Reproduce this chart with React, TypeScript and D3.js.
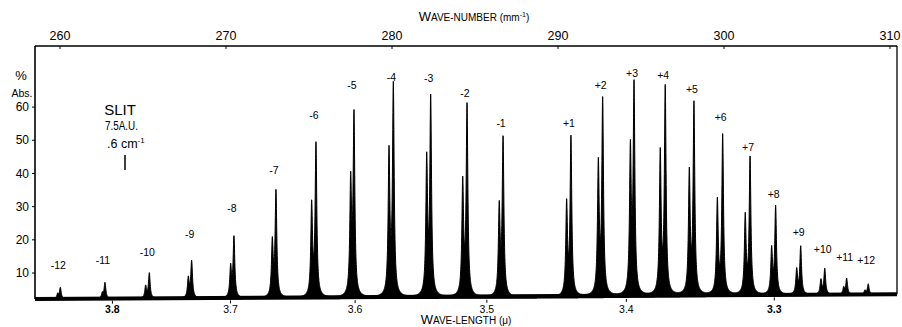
import React from "react";
import * as d3 from "d3";

// ---- data ----
const LINE_LABELS = ["-12","-11","-10","-9","-8","-7","-6","-5","-4","-3","-2","-1","+1","+2","+3","+4","+5","+6","+7","+8","+9","+10","+11","+12"];
const WN_MAIN = [260.02,262.71,265.38,267.93,270.48,273.01,275.42,277.71,280.08,282.33,284.52,286.69,290.78,292.69,294.58,296.46,298.19,299.92,301.57,303.11,304.62,306.07,307.39,308.69];
const ABS_MAIN = [5.7,7.2,10.1,13.9,21.2,35.2,49.5,59.1,67.6,63.9,61.2,51.4,51.4,63.1,68.1,66.6,61.6,51.8,45.2,30.3,18.1,11.4,8.4,6.7];
const WN_ISO = [259.86,262.55,265.16,267.73,270.28,272.79,275.16,277.51,279.82,282.09,284.26,286.46,290.52,292.43,294.36,296.16,297.91,299.6,301.28,302.87,304.38,305.84,307.21,308.49];
const ABS_ISO = [4.0,4.4,6.4,9.1,12.9,20.9,32.0,40.5,48.3,46.4,39.0,31.7,32.3,44.6,50.1,47.6,41.6,32.6,28.1,18.1,11.5,8.2,5.9,4.9];
const LABEL_ABS = [12.4,13.9,16.3,21.7,29.6,40.9,57.6,66.6,69.0,68.7,64.2,55.2,55.2,66.6,70.2,69.6,65.4,56.9,48.0,33.8,22.4,17.2,14.8,13.9];
const BASELINE_WN = [258.5, 290, 310.4];
const BASELINE_ABS = [2.2, 2.6, 3.6];
const WN_TICKS = [260, 270, 280, 290, 300, 310];
const ABS_TICKS = [10, 20, 30, 40, 50, 60];
const WL_TICKS = [3.8, 3.7, 3.6, 3.5, 3.4, 3.3];

const FONT = "'Liberation Sans', Arial, sans-serif";

export default function App() {
  const W = 902, H = 327;
  const x = d3.scaleLinear().domain([260, 300]).range([60, 724]);
  const y = d3.scaleLinear().domain([0, 78.4]).range([306.2, 46]);
  const base = d3.scaleLinear().domain(BASELINE_WN).range(BASELINE_ABS);
  const left = 35, right = 897, top = 46;
  const wnMin = x.invert(left), wnMax = x.invert(right);

  const gam = 1.0 / 16.6; // line half-width in mm^-1
  const lor = (d: number) => 1 / (1 + (d / gam) * (d / gam));

  // amplitudes of each doublet so that the drawn maxima equal the read values
  const comps = WN_MAIN.map((wm, i) => {
    const ws = WN_ISO[i];
    const L = lor(wm - ws);
    const hm = ABS_MAIN[i] - base(wm);
    const hs = ABS_ISO[i] - base(ws);
    const am = (hm - L * hs) / (1 - L * L);
    const as = (hs - L * hm) / (1 - L * L);
    return { wm, ws, am, as };
  });

  const pts = d3.range(wnMin, wnMax, 0.008).map((w) => {
    let v = base(w);
    for (const c of comps) {
      v += c.am * lor(w - c.wm) + c.as * lor(w - c.ws);
    }
    return { w, v, b: base(w) };
  });

  const area = d3.area<any>().x((d) => x(d.w)).y0((d) => y(d.b) + 1).y1((d) => y(d.v));
  const line = d3.line<any>().x((d) => x(d.w)).y((d) => y(d.v));
  const baseLine = d3.line<any>().x((d) => x(d.w)).y((d) => y(d.b));
  const baseEnds = [{ w: wnMin, b: base(wnMin) }, { w: wnMax, b: base(wnMax) }];

  const wlX = (l: number) => x(1000 / l);

  return (
    <svg width={W} height={H} viewBox={`0 0 ${W} ${H}`} style={{ position: "absolute", left: 0, top: 0, background: "#fff" }}>
      <rect x={0} y={0} width={W} height={H} fill="#fff" />
      {/* frame */}
      <line x1={left} x2={right} y1={top} y2={top} stroke="#000" strokeWidth={1.4} />
      <line x1={left} x2={left} y1={top} y2={y(base(wnMin))} stroke="#000" strokeWidth={1.6} />
      <line x1={right} x2={right} y1={top} y2={y(base(wnMax))} stroke="#000" strokeWidth={1.3} />

      {/* spectrum */}
      <path d={area(pts) || ""} fill="#000" />
      <path d={line(pts) || ""} fill="none" stroke="#000" strokeWidth={1} />
      <path d={baseLine(baseEnds) || ""} fill="none" stroke="#000" strokeWidth={4} />

      {/* top axis */}
      {WN_TICKS.map((t) => (
        <g key={"wt" + t}>
          <line x1={x(t)} x2={x(t)} y1={top} y2={top + 3} stroke="#000" strokeWidth={1} />
          <text x={x(t)} y={40} textAnchor="middle" fontFamily={FONT} fontSize={12.5} fill="#000">{t}</text>
        </g>
      ))}
      <text x={474} y={21} textAnchor="middle" fontFamily={FONT} fill="#000">
        <tspan fontSize={13}>W</tspan>
        <tspan fontSize={10}>AVE-NUMBER (mm</tspan>
        <tspan fontSize={7} dy={-4}>-1</tspan>
        <tspan fontSize={10} dy={4}>)</tspan>
      </text>

      {/* left axis */}
      {ABS_TICKS.map((t) => (
        <g key={"at" + t}>
          <line x1={left - 3} x2={left} y1={y(t)} y2={y(t)} stroke="#000" strokeWidth={1} />
          <text x={29} y={y(t)} dy="0.35em" textAnchor="end" fontFamily={FONT} fontSize={12} fill="#000">{t}</text>
        </g>
      ))}
      <text x={21} y={80} textAnchor="middle" fontFamily={FONT} fontSize={13} fill="#000">%</text>
      <text x={22} y={97} textAnchor="middle" fontFamily={FONT} fontSize={10.5} fill="#000">Abs.</text>

      {/* bottom axis (wavelength) */}
      {WL_TICKS.map((t) => (
        <g key={"wl" + t}>
          <line x1={wlX(t)} x2={wlX(t)} y1={y(base(1000 / t)) + 2} y2={y(base(1000 / t)) + 5} stroke="#000" strokeWidth={1} />
          <text x={wlX(t)} y={313} textAnchor="middle" fontFamily={FONT} fontSize={10.5}
            fontWeight={t === 3.8 || t === 3.3 ? "bold" : "normal"} fill="#000">{t.toFixed(1)}</text>
        </g>
      ))}
      <text x={466} y={324} textAnchor="middle" fontFamily={FONT} fill="#000">
        <tspan fontSize={13}>W</tspan>
        <tspan fontSize={10}>AVE-LENGTH (μ)</tspan>
      </text>

      {/* line labels */}
      {LINE_LABELS.map((lab, i) => (
        <text key={"ll" + i} x={x(WN_MAIN[i]) - 2} y={y(LABEL_ABS[i])} dy="0.35em" textAnchor="middle"
          fontFamily={FONT} fontSize={10.5} fill="#000">{lab}</text>
      ))}

      {/* slit annotation */}
      <text x={120} y={115} textAnchor="middle" fontFamily={FONT} fontSize={15} fill="#000">SLIT</text>
      <text x={121.5} y={130} textAnchor="middle" fontFamily={FONT} fontSize={12.5} textLength={33} lengthAdjust="spacingAndGlyphs" fill="#000">7.5A.U.</text>
      <text x={107} y={148} fontFamily={FONT} fontSize={12.5} fill="#000">
        .6 cm<tspan fontSize={8} dy={-5}>-1</tspan>
      </text>
      <line x1={125} x2={125} y1={155} y2={170} stroke="#000" strokeWidth={1.5} />
    </svg>
  );
}
